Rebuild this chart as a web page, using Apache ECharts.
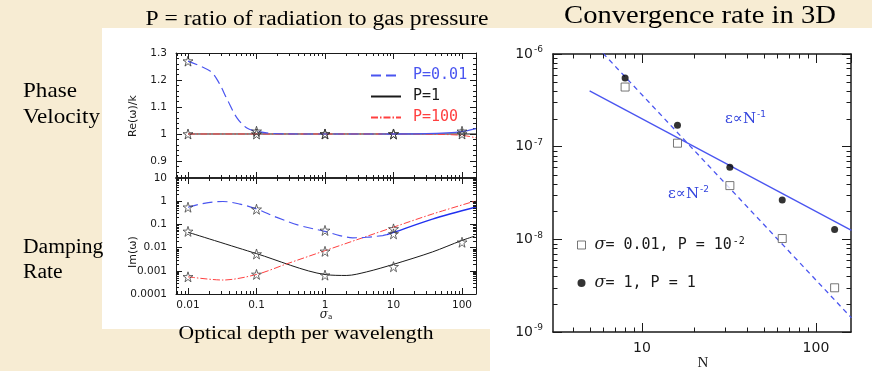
<!DOCTYPE html>
<html>
<head>
<meta charset="utf-8">
<script src="https://cdn.jsdelivr.net/npm/echarts@6/dist/echarts.min.js"></script>
<style>
  html, body { margin: 0; padding: 0; background: #f7ecd3; }
  #chart { width: 872px; height: 371px; }
</style>
</head>
<body>
<div id="chart"></div>
<script>
// ---- dispersion relation: phase velocity Re(w)/k versus optical depth sigma_a ----
const reP001Dashed = [[0.01, 1.27], [0.021, 1.233], [0.0274, 1.196], [0.0383, 1.122], [0.0518, 1.06],
                      [0.0724, 1.022], [0.105, 1.009], [0.173, 1.002], [0.5, 1.0], [8, 1.0]];
const reP001Solid  = [[8, 1.0], [30, 1.001], [60, 1.004], [100, 1.009], [160, 1.02]];
const reP1         = [[0.01, 1.0], [1, 1.0], [160, 1.0]];
const reP100       = [[0.01, 1.0], [10, 1.0], [40, 0.999], [100, 0.995], [160, 0.986]];

// ---- damping rate Im(w) versus optical depth ----
const imP001Dashed = [[0.01, 0.55], [0.015, 0.75], [0.0324, 0.97], [0.0573, 0.75], [0.101, 0.46],
                      [0.198, 0.2], [0.43, 0.089], [1.03, 0.049], [1.64, 0.033], [2.54, 0.0265],
                      [4.06, 0.028], [6.96, 0.033], [8, 0.036]];
const imP001Solid  = [[8, 0.036], [10, 0.045], [37, 0.17], [160, 0.56]];
const imP1         = [[0.01, 0.046], [0.1, 0.0055], [1, 0.00069], [2.08, 0.00063], [4.06, 0.0009],
                      [10, 0.0019], [37, 0.0065], [98, 0.02], [152, 0.031]];
const imP100       = [[0.01, 0.00055], [0.0324, 0.0004], [0.101, 0.0007], [0.277, 0.002],
                      [1.03, 0.0076], [10, 0.076], [37, 0.28], [160, 1.04]];

// ---- numerical runs (stars) ----
const sigmaRuns   = [0.01, 0.1, 1, 10, 100];
const reRunP001   = [1.27, 1.01, 1.0, 1.0, 1.01];
const reRunP1     = [1.0, 1.0, 1.0, 1.0, 1.0];
const imRunP001   = [0.55, 0.45, 0.055, 0.039, null];
const imRunP1     = [0.05, 0.0053, 0.00065, 0.0015, 0.017];
const imRunP100   = [0.00055, 0.0007, 0.0069, 0.064, null];

// ---- convergence in 3D: error versus resolution N ----
const resolutions = [8, 16, 32, 64, 128];
const errThin     = [4.4e-7, 1.09e-7, 3.8e-8, 1.02e-8, 3.0e-9];   // sigma = 0.01, P = 1e-2
const errThick    = [5.5e-7, 1.7e-7, 6.0e-8, 2.65e-8, 1.28e-8];   // sigma = 1, P = 1
const slopeOne    = [[5, 4.0e-7], [160, 1.25e-8]];
const slopeTwo    = [[5.5, 1.2e-6], [160, 1.42e-9]];

// tick label texts
const velTicks  = [0.9, 1, 1.1, 1.2, 1.3];
const dampTicks = ['0.0001', '0.001', '0.01', '0.1', '1', '10'];

const INK = '#1a1a1a';
const BLUE = '#4a55f0';
const RED = '#ff4040';
const starPath = 'path://M50,2 L61,37 L98,37 L68,59 L79,95 L50,73 L21,95 L32,59 L2,37 L39,37 Z';

function runs(vals) {
  return sigmaRuns.map((s, i) => [s, vals[i]]).filter(d => d[1] != null);
}
function pairs(xs, ys) { return xs.map((x, i) => [x, ys[i]]); }

function minorLog(lo, hi) {
  const out = [];
  for (let e = Math.floor(Math.log10(lo)); e <= Math.ceil(Math.log10(hi)); e++) {
    for (let m = 2; m <= 9; m++) {
      const v = m * Math.pow(10, e);
      if (v > lo && v < hi) out.push(v);
    }
  }
  return out;
}

// short inward tick marks on both edges of a grid for a log axis
function minorTicks(xi, yi, vals, dir, ref, len, width) {
  return {
    type: 'custom', xAxisIndex: xi, yAxisIndex: yi, silent: true, clip: false, z: 6,
    data: vals.map(v => dir === 'x' ? [v, ref] : [ref, v]),
    renderItem(params, api) {
      const cs = params.coordSys;
      const p = api.coord([api.value(0), api.value(1)]);
      const st = { stroke: INK, lineWidth: width };
      if (dir === 'x') {
        const x = Math.round(p[0]) + 0.5;
        return { type: 'group', children: [
          { type: 'line', shape: { x1: x, y1: cs.y + cs.height, x2: x, y2: cs.y + cs.height - len }, style: st },
          { type: 'line', shape: { x1: x, y1: cs.y, x2: x, y2: cs.y + len }, style: st }
        ]};
      }
      const y = Math.round(p[1]) + 0.5;
      return { type: 'group', children: [
        { type: 'line', shape: { x1: cs.x, y1: y, x2: cs.x + len, y2: y }, style: st },
        { type: 'line', shape: { x1: cs.x + cs.width, y1: y, x2: cs.x + cs.width - len, y2: y }, style: st }
      ]};
    }
  };
}

const smallFont = { fontFamily: 'DejaVu Sans', fontSize: 10.5, color: INK };

function axisBase(extra, tickLen, lineW) {
  return Object.assign({
    axisLine: { show: true, onZero: false, lineStyle: { color: INK, width: lineW } },
    axisTick: { show: true, inside: true, length: tickLen, lineStyle: { color: INK, width: 1 } },
    splitLine: { show: false },
    axisLabel: { show: false }
  }, extra);
}

const sigMin = 0.00668, sigMax = 160;
const nMin = 3.08, nMax = 159;

const chart = echarts.init(document.getElementById('chart'), null, { renderer: 'canvas' });

const supRich = {
  sup: { fontSize: 9, verticalAlign: 'top', padding: [0, 0, 8, 1], fontFamily: 'DejaVu Sans', color: INK }
};

function serifText(x, y, text, size, sx, align) {
  return { type: 'text', z: 10, x: x, y: y, scaleX: sx, style: { text: text, lineHeight: Math.round(size * 1.25),
    font: size + 'px "Liberation Serif"', fill: '#000', align: align || 'center', verticalAlign: 'middle' } };
}

chart.setOption({
  animation: false,
  backgroundColor: '#f7ecd3',
  grid: [
    { left: 176, top: 53, width: 300, height: 125 },
    { left: 176, top: 178, width: 300, height: 116 },
    { left: 553, top: 54, width: 298, height: 278 }
  ],
  xAxis: [
    axisBase({ type: 'log', gridIndex: 0, position: 'bottom', min: sigMin, max: sigMax }, 6, 1.5),
    axisBase({ type: 'log', gridIndex: 0, position: 'top', min: sigMin, max: sigMax }, 6, 1),
    axisBase({ type: 'log', gridIndex: 1, position: 'bottom', min: sigMin, max: sigMax,
      axisLabel: { show: true, margin: 6, showMinLabel: false, showMaxLabel: false, ...smallFont,
        formatter: v => String(Math.round(v * 1000) / 1000) } }, 6, 1),
    axisBase({ type: 'log', gridIndex: 1, position: 'top', min: sigMin, max: sigMax }, 6, 1.5),
    axisBase({ type: 'log', gridIndex: 2, position: 'bottom', min: nMin, max: nMax,
      axisLabel: { show: true, margin: 9, showMinLabel: false, showMaxLabel: false,
        fontFamily: 'DejaVu Sans', fontSize: 14, color: INK, formatter: v => String(Math.round(v)) } }, 9, 1.5),
    axisBase({ type: 'log', gridIndex: 2, position: 'top', min: nMin, max: nMax }, 9, 1.5)
  ],
  yAxis: [
    axisBase({ type: 'value', gridIndex: 0, position: 'left', min: 0.837, max: 1.3,
      minorTick: { show: true, splitNumber: 5, length: 3, lineStyle: { color: INK } },
      axisLabel: { show: true, margin: 9, showMinLabel: false, ...smallFont,
        formatter: v => velTicks.some(t => Math.abs(t - v) < 1e-6) ? String(Math.round(v * 10) / 10) : '' } }, 6, 1),
    axisBase({ type: 'value', gridIndex: 0, position: 'right', min: 0.837, max: 1.3,
      minorTick: { show: true, splitNumber: 5, length: 3, lineStyle: { color: INK } } }, 6, 1),
    axisBase({ type: 'log', gridIndex: 1, position: 'left', min: 1e-4, max: 10,
      axisLabel: { show: true, margin: 9, ...smallFont,
        formatter: v => dampTicks[Math.round(Math.log10(v)) + 4] } }, 6, 1),
    axisBase({ type: 'log', gridIndex: 1, position: 'right', min: 1e-4, max: 10 }, 6, 1),
    axisBase({ type: 'log', gridIndex: 2, position: 'left', min: 1e-9, max: 1e-6,
      axisLabel: { show: true, margin: 10, fontFamily: 'DejaVu Sans', fontSize: 14, color: INK, rich: supRich,
        formatter: v => '10{sup|' + Math.round(Math.log10(v)) + '}' } }, 9, 1.5),
    axisBase({ type: 'log', gridIndex: 2, position: 'right', min: 1e-9, max: 1e-6 }, 9, 1.5)
  ],
  legend: [
    {
      left: 365, top: 63, orient: 'vertical', itemWidth: 30, itemHeight: 12, itemGap: 6,
      textStyle: { fontFamily: 'DejaVu Sans Mono', fontSize: 15, padding: [0, 0, 0, 7] },
      itemStyle: { opacity: 0 },
      selectedMode: false,
      data: [
        { name: 'P=0.01', textStyle: { color: BLUE } },
        { name: 'P=1', textStyle: { color: INK } },
        { name: 'P=100', textStyle: { color: RED } }
      ]
    },
    {
      left: 572, top: 231, orient: 'vertical', itemWidth: 8, itemHeight: 8, itemGap: 22,
      selectedMode: false,
      textStyle: { fontFamily: 'DejaVu Sans Mono', fontSize: 15, color: INK, padding: [0, 0, 0, 4],
        rich: { it: { fontStyle: 'italic', fontFamily: 'DejaVu Serif', fontSize: 16, color: INK },
                sup: { fontSize: 10, fontFamily: 'DejaVu Sans Mono', verticalAlign: 'top', padding: [0, 0, 8, 1], color: INK } } },
      formatter: name => name === 'thin'
        ? '{it|σ}= 0.01, P = 10{sup|-2}'
        : '{it|σ}= 1, P = 1',
      data: [
        { name: 'thin', icon: 'rect', itemStyle: { color: '#fff', borderColor: '#555', borderWidth: 1 } },
        { name: 'thick', icon: 'circle', itemStyle: { color: '#000' } }
      ]
    }
  ],
  series: [
    // phase velocity panel
    { name: 'P=1', type: 'line', xAxisIndex: 0, yAxisIndex: 0, data: reP1, showSymbol: false, symbol: 'none',
      lineStyle: { color: INK, width: 1 }, itemStyle: { color: INK } },
    { name: 'P=100', type: 'line', xAxisIndex: 0, yAxisIndex: 0, data: reP100, smooth: 0.3, symbol: 'none',
      lineStyle: { color: RED, width: 1, type: [7, 2, 1.5, 2] }, itemStyle: { color: RED } },
    { name: 'P=0.01', type: 'line', xAxisIndex: 0, yAxisIndex: 0, data: reP001Dashed, smooth: 0.35, symbol: 'none',
      lineStyle: { color: BLUE, width: 1.2, type: [10, 5] }, itemStyle: { color: BLUE } },
    { name: 'P=0.01 hi', type: 'line', xAxisIndex: 0, yAxisIndex: 0, data: reP001Solid, smooth: 0.3, symbol: 'none',
      lineStyle: { color: BLUE, width: 1.3 } },
    { name: 'runs Re', type: 'scatter', xAxisIndex: 0, yAxisIndex: 0, z: 8,
      data: runs(reRunP001).concat(runs(reRunP1)), symbol: starPath, symbolSize: 10,
      itemStyle: { color: 'rgba(255,255,255,0)', borderColor: '#333', borderWidth: 1 } },

    // damping rate panel
    { name: 'P=1 d', type: 'line', xAxisIndex: 2, yAxisIndex: 2, data: imP1, smooth: 0.3, symbol: 'none',
      lineStyle: { color: INK, width: 1 } },
    { name: 'P=100 d', type: 'line', xAxisIndex: 2, yAxisIndex: 2, data: imP100, smooth: 0.3, symbol: 'none',
      lineStyle: { color: RED, width: 1, type: [7, 2, 1.5, 2] } },
    { name: 'P=0.01 d', type: 'line', xAxisIndex: 2, yAxisIndex: 2, data: imP001Dashed, smooth: 0.35, symbol: 'none',
      lineStyle: { color: BLUE, width: 1.2, type: [10, 5] } },
    { name: 'P=0.01 dhi', type: 'line', xAxisIndex: 2, yAxisIndex: 2, data: imP001Solid, smooth: 0.3, symbol: 'none',
      lineStyle: { color: '#2030f0', width: 1.4 } },
    { name: 'runs Im', type: 'scatter', xAxisIndex: 2, yAxisIndex: 2, z: 8,
      data: runs(imRunP001).concat(runs(imRunP1), runs(imRunP100)), symbol: starPath, symbolSize: 10,
      itemStyle: { color: 'rgba(255,255,255,0)', borderColor: '#444', borderWidth: 1 } },

    // convergence panel
    { name: 'fit1', type: 'line', xAxisIndex: 4, yAxisIndex: 4, data: slopeOne, symbol: 'none',
      lineStyle: { color: BLUE, width: 1.3 } },
    { name: 'fit2', type: 'line', xAxisIndex: 4, yAxisIndex: 4, data: slopeTwo, symbol: 'none',
      lineStyle: { color: BLUE, width: 1.3, type: [5, 4] } },
    { name: 'thin', type: 'scatter', xAxisIndex: 4, yAxisIndex: 4, data: pairs(resolutions, errThin), z: 8,
      symbol: 'rect', symbolSize: 8, itemStyle: { color: '#fff', borderColor: '#555', borderWidth: 1 } },
    { name: 'thick', type: 'scatter', xAxisIndex: 4, yAxisIndex: 4, data: pairs(resolutions, errThick), z: 8,
      symbol: 'circle', symbolSize: 7, itemStyle: { color: '#000' } },

    // minor ticks on the log axes
    minorTicks(0, 0, minorLog(sigMin, sigMax), 'x', 1.0, 3, 1),
    minorTicks(2, 2, minorLog(sigMin, sigMax), 'x', 0.01, 3, 1),
    minorTicks(2, 2, minorLog(1e-4, 10), 'y', 1, 3, 1),
    minorTicks(4, 4, minorLog(nMin, nMax), 'x', 1e-8, 4.5, 1),
    minorTicks(4, 4, minorLog(1e-9, 1e-6), 'y', 10, 4.5, 1)
  ],
  graphic: { elements: [
    { type: 'rect', z: -10, shape: { x: 102, y: 28, width: 388, height: 301 }, style: { fill: '#ffffff' } },
    { type: 'rect', z: -10, shape: { x: 490, y: 28, width: 382, height: 343 }, style: { fill: '#ffffff' } },
    serifText(317, 20, 'P = ratio of radiation to gas pressure', 20, 1.18),
    serifText(700, 16, 'Convergence rate in 3D', 26, 1.1),
    serifText(23, 104, 'Phase\nVelocity', 21, 1.1, 'left'),
    serifText(23, 260, 'Damping\nRate', 20, 1.08, 'left'),
    serifText(306, 334, 'Optical depth per wavelength', 18, 1.2),
    { type: 'text', z: 10, x: 133, y: 116, rotation: Math.PI / 2, style: { text: 'Re(ω)/k',
      font: '11px "DejaVu Sans"', fill: INK, align: 'center', verticalAlign: 'middle' } },
    { type: 'text', z: 10, x: 133, y: 252, rotation: Math.PI / 2, style: { text: 'Im(ω)',
      font: '11px "DejaVu Sans"', fill: INK, align: 'center', verticalAlign: 'middle' } },
    { type: 'text', z: 10, x: 326, y: 315, style: { text: '{s|σ}{a|a}', align: 'center', verticalAlign: 'middle',
      rich: { s: { font: 'italic 12px "DejaVu Serif"', fill: INK }, a: { font: '7px "DejaVu Sans"', fill: INK, padding: [5, 0, 0, 0] } } } },
    { type: 'text', z: 10, x: 703, y: 363, style: { text: 'N',
      font: '15px "Liberation Serif"', fill: INK, align: 'center', verticalAlign: 'middle' } },
    { type: 'text', z: 10, x: 725, y: 119, style: { text: 'ε∝N{p|-1}', align: 'left', verticalAlign: 'middle',
      font: '15px "DejaVu Serif"', fill: '#3344dd', rich: { p: { font: '9px "DejaVu Sans"', fill: '#3344dd', padding: [0, 0, 9, 1] } } } },
    { type: 'text', z: 10, x: 668, y: 194, style: { text: 'ε∝N{p|-2}', align: 'left', verticalAlign: 'middle',
      font: '15px "DejaVu Serif"', fill: '#3344dd', rich: { p: { font: '9px "DejaVu Sans"', fill: '#3344dd', padding: [0, 0, 9, 1] } } } }
  ]}
});
</script>
</body>
</html>
